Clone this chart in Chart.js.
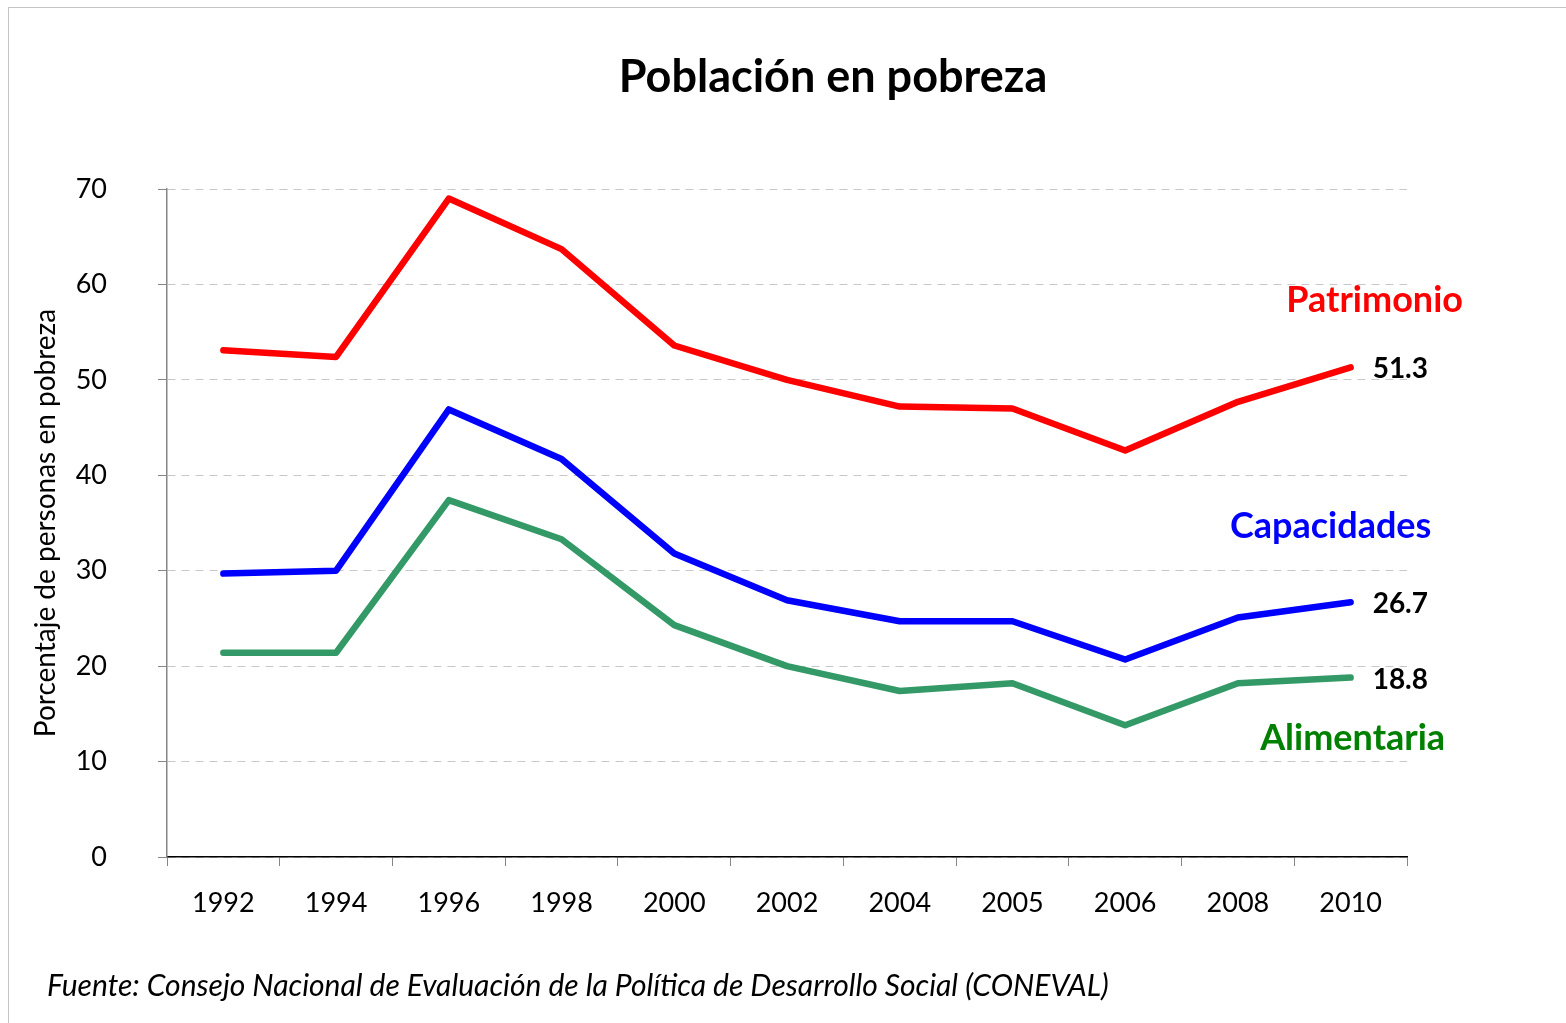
<!DOCTYPE html>
<html>
<head>
<meta charset="utf-8">
<script src="https://cdn.jsdelivr.net/npm/chart.js@4.4.1/dist/chart.umd.min.js"></script>
<style>
    html, body { margin: 0; padding: 0; background: #fff; }
    #wrap { position: relative; width: 1566px; height: 1023px; }
    #frame {
        position: absolute; left: 8px; top: 7px; right: -2px; bottom: -2px;
        border-left: 1px solid #c4c4c4; border-top: 1px solid #c4c4c4;
        pointer-events: none;
    }
    canvas { position: absolute; left: 0; top: 0; }
</style>
</head>
<body>
<div id="wrap">
    <canvas id="povertyChart" width="1566" height="1023"></canvas>
    <div id="frame"></div>
</div>
<script>
const years = ["1992","1994","1996","1998","2000","2002","2004","2005","2006","2008","2010"];
const patrimonio  = [53.1, 52.4, 69.0, 63.7, 53.6, 50.0, 47.2, 47.0, 42.6, 47.7, 51.3];
const capacidades = [29.7, 30.0, 46.9, 41.7, 31.8, 26.9, 24.7, 24.7, 20.7, 25.1, 26.7];
const alimentaria = [21.4, 21.4, 37.4, 33.3, 24.3, 20.0, 17.4, 18.2, 13.8, 18.2, 18.8];
const yTicks = [0, 10, 20, 30, 40, 50, 60, 70];

const FONT = "Lato, 'Open Sans', sans-serif";

/** ===== title, series names, last values and source note ===== */
const chartText = {
    id: "chartText",
    afterDatasetsDraw(chart, args, opts) {
        const { ctx } = chart;
        ctx.save();
        ctx.textBaseline = "middle";

        // title
        ctx.font = "bold 45px " + FONT;
        ctx.fillStyle = "#000";
        ctx.textAlign = "center";
        ctx.fillText(opts.title, 833, 77);

        chart.data.datasets.forEach((ds, i) => {
            const meta = chart.getDatasetMeta(i);
            const last = meta.data[meta.data.length - 1];
            const info = opts.items[i];
            // value at end of line
            ctx.font = "bold 28px " + FONT;
            ctx.fillStyle = "#000";
            ctx.textAlign = "left";
            ctx.fillText(ds.data[ds.data.length - 1].toFixed(1), last.x + 22, last.y + 2);
            // series name
            ctx.font = "bold 36px " + FONT;
            ctx.fillStyle = info.color;
            ctx.textAlign = "center";
            ctx.fillText(ds.label, last.x + info.dx, last.y + info.dy);
        });

        // source note
        ctx.font = "italic 30px " + FONT;
        ctx.fillStyle = "#000";
        ctx.textAlign = "left";
        ctx.fillText(opts.source, 47, 986);
        ctx.restore();
    }
};

new Chart(document.getElementById("povertyChart"), {
    type: "line",
    data: {
        labels: years,
        datasets: [
            { label: "Patrimonio",  data: patrimonio,  borderColor: "#ff0000" },
            { label: "Capacidades", data: capacidades, borderColor: "#0000ff" },
            { label: "Alimentaria", data: alimentaria, borderColor: "#339966" },
        ],
    },
    options: {
        responsive: false,
        animation: false,
        layout: { padding: { left: 0, right: 159, top: 189, bottom: 0 } },
        elements: {
            line: { borderWidth: 6.5, tension: 0, borderJoinStyle: "round", borderCapStyle: "round" },
            point: { radius: 0, hoverRadius: 0 },
        },
        plugins: {
            legend: { display: false },
            tooltip: { enabled: false },
            chartText: {
                title: "Población en pobreza",
                source: "Fuente: Consejo Nacional de Evaluación de la Política de Desarrollo Social (CONEVAL)",
                items: [
                    { color: "#ff0000", dx: 24, dy: -67 },
                    { color: "#0000ff", dx: -20, dy: -76 },
                    { color: "#008000", dx: 2, dy: 61 },
                ],
            },
        },
        scales: {
            x: {
                offset: true,
                grid: { offset: true, drawOnChartArea: false, tickLength: 9, tickColor: "#868686" },
                border: { color: "#000", width: 1.5 },
                ticks: { color: "#000", padding: 21, font: { family: FONT, size: 27 } },
                afterFit: (scale) => { scale.height = 166; },
            },
            y: {
                min: 0,
                max: 70,
                afterBuildTicks: (scale) => { scale.ticks = yTicks.map((v) => ({ value: v })); },
                grid: { color: "#c8c8c8", tickLength: 9, tickColor: "#868686", lineWidth: 1 },
                border: { color: "#868686", width: 1.5, dash: [8, 6] },
                ticks: { color: "#000", padding: 51, font: { family: FONT, size: 27 } },
                title: {
                    display: true,
                    text: "Porcentaje de personas en pobreza",
                    color: "#000",
                    font: { family: FONT, size: 28 },
                    padding: { top: 29, bottom: 0 },
                },
                afterFit: (scale) => { scale.width = 167; },
            },
        },
    },
    plugins: [chartText],
});
</script>
</body>
</html>
